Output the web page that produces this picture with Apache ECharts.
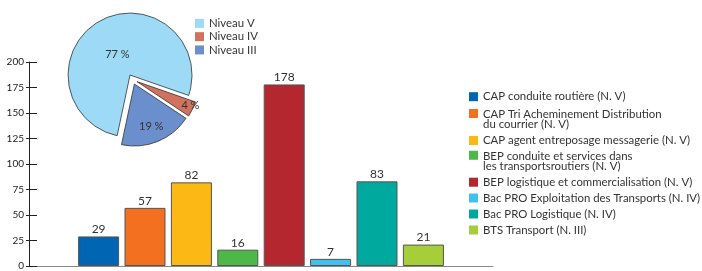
<!DOCTYPE html>
<html>
<head>
<meta charset="utf-8">
<script src="https://cdn.jsdelivr.net/npm/echarts@6/dist/echarts.min.js"></script>
<style>
  html, body { margin: 0; padding: 0; background: #fff; }
  #chart { width: 702px; height: 271px; }
</style>
</head>
<body>
<div id="chart"></div>
<script>
// diplômes (légende des barres) et effectifs
const courses = [
  'CAP conduite routière (N. V)',
  'CAP Tri Acheminement Distribution\ndu courrier (N. V)',
  'CAP agent entreposage messagerie (N. V)',
  'BEP conduite et services dans\nles transportsroutiers (N. V)',
  'BEP logistique et commercialisation (N. V)',
  'Bac PRO Exploitation des Transports (N. IV)',
  'Bac PRO Logistique (N. IV)',
  'BTS Transport (N. III)'
]
const values = [29, 57, 82, 16, 178, 7, 83, 21]
const barColors = ['#0066b3', '#f37021', '#fcb814', '#4db848', '#b5272e', '#3fc1ef', '#00a99d', '#a6ce39']

// répartition par niveau (camembert)
const levels = ['Niveau V', 'Niveau IV', 'Niveau III']
const levelShares = [77, 4, 19]
const levelColors = ['#9cdaf6', '#d1735c', '#6a8fcc']

const yTicks = { min: 0, max: 200, interval: 25 }

const FONT = 'Lato'
const TXT = '#333'

// catégories vides aux deux bouts, comme sur l'original
const cats = ['', ...courses.map((c, i) => 'c' + i), '']

const barSeries = courses.map((name, i) => ({
  type: 'bar',
  name,
  stack: 'all',
  barWidth: 41,
  data: cats.map((c, j) => (j === i + 1 ? values[i] : '-')),
  itemStyle: { color: barColors[i], borderColor: '#555', borderWidth: 1 },
  label: {
    show: true, position: 'top', distance: 1,
    fontFamily: FONT, fontSize: 12, color: TXT
  },
  emphasis: { disabled: true }
}))

// une légende par entrée pour caler les lignes doubles
const legendTops = [91.2, 108.8, 135, 150.5, 176.7, 192.5, 208.5, 224.5]
const LH = 10.5
const barLegends = courses.map((name, i) => {
  const two = name.includes('\n')
  return {
    data: [name],
    left: 469, top: legendTops[i],
    itemWidth: 9,
    itemHeight: two ? 2 * LH : 9,
    // carré en haut de la case quand le libellé tient sur deux lignes
    icon: two ? 'path://M0,0H9V9H0Z M0,21H0.01' : 'rect',
    itemStyle: { borderWidth: 0 },
    selectedMode: false,
    padding: 0,
    textStyle: { fontFamily: FONT, fontSize: 11.4, color: TXT, lineHeight: two ? LH : 11 }
  }
})

const pieShift = [[4, 9], [23, 9], [4, 11]]

const option = {
  animation: false,
  grid: { left: 29, right: 209, top: 62, bottom: 2 },
  xAxis: {
    type: 'category', data: cats,
    axisLine: { lineStyle: { color: '#888', width: 1 } },
    axisTick: { show: false },
    axisLabel: { show: false }
  },
  yAxis: [
    {
      type: 'value', ...yTicks,
      axisLine: { show: true, lineStyle: { color: '#222', width: 1 } },
      axisTick: { show: true, inside: true, length: 8, lineStyle: { color: '#222' } },
      axisLabel: { margin: 5, fontFamily: FONT, fontSize: 10, color: '#222' },
      splitLine: { show: false }
    },
    {
      type: 'value', ...yTicks, position: 'left',
      axisLine: { show: false },
      axisTick: { show: true, length: 3, lineStyle: { color: '#222' } },
      axisLabel: { show: false },
      splitLine: { show: false }
    }
  ],
  legend: [
    ...barLegends,
    {
      data: levels,
      orient: 'vertical',
      left: 195, top: 16.7,
      itemWidth: 9, itemHeight: 9, itemGap: 0, icon: 'rect',
      itemStyle: { borderWidth: 0 },
      selectedMode: false,
      padding: 0,
      textStyle: { fontFamily: FONT, fontSize: 11.4, color: TXT, lineHeight: 13.3 }
    }
  ],
  series: [
    ...barSeries,
    {
      type: 'pie',
      center: [132.5, 79.4],
      radius: 62,
      startAngle: 258,
      clockwise: true,
      selectedMode: 'multiple',
      selectedOffset: 5,
      z: 5,
      itemStyle: { borderColor: '#333', borderWidth: 0.8 },
      label: {
        show: true, position: 'inside',
        fontFamily: FONT, fontSize: 11, color: TXT,
        formatter: '{c} %'
      },
      labelLine: { show: false },
      labelLayout: (p) => ({ dx: pieShift[p.dataIndex][0], dy: pieShift[p.dataIndex][1] }),
      emphasis: { disabled: true },
      data: levels.map((name, i) => ({
        name, value: levelShares[i], selected: true,
        itemStyle: { color: levelColors[i] }
      }))
    }
  ]
}

const chart = echarts.init(document.getElementById('chart'), null, { renderer: 'canvas' })
chart.setOption(option)
</script>
</body>
</html>
